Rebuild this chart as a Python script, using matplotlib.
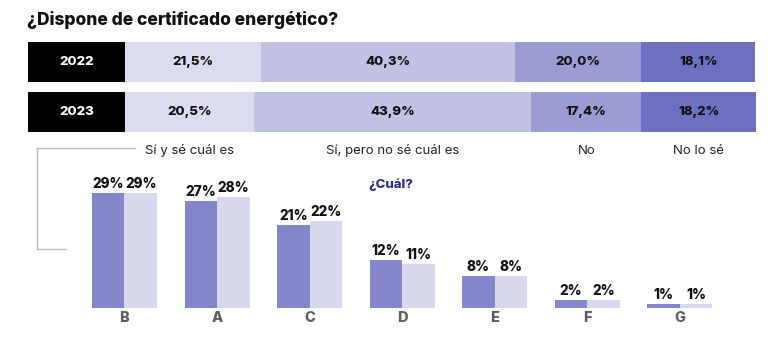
import matplotlib
matplotlib.use("Agg")
import matplotlib.pyplot as plt
from matplotlib.lines import Line2D

plt.rcParams['font.family'] = ['Inter', 'Lato', 'DejaVu Sans']

# ---- data ----
years = ["2022", "2023"]
answers = ["Sí y sé cuál es", "Sí, pero no sé cuál es", "No", "No lo sé"]
share_2022 = [21.5, 40.3, 20.0, 18.1]
share_2023 = [20.5, 43.9, 17.4, 18.2]
seg_colors = ["#dcdcf0", "#c0c1e3", "#9a9cd3", "#6e71c0"]

classes = ["B", "A", "C", "D", "E", "F", "G"]
cls_2022 = [29, 27, 21, 12, 8, 2, 1]
cls_2023 = [29, 28, 22, 11, 8, 2, 1]

W, H = 768, 361
fig = plt.figure(figsize=(W / 100, H / 100), dpi=100)

def fx(px):
    return px / W

def fy(py):
    return 1 - py / H

HEAVY = "heavy"

# title
fig.text(fx(27), fy(20), "¿Dispone de certificado energético?", fontsize=12.5,
         fontweight=HEAVY, color="#111111", ha="left", va="center")

# ---- stacked bars ----
label_w = 97 / 631 * 100
ax1 = fig.add_axes([fx(28), fy(137), fx(756) - fx(28), (137 - 37) / H])
ax1.set_xlim(-label_w, 100)
ax1.set_ylim(1.5, -0.5)
ax1.axis("off")
rows = [share_2022, share_2023]
for i, (yr, vals) in enumerate(zip(years, rows)):
    ax1.barh(i, label_w, left=-label_w, height=0.8, color="black")
    ax1.text(-label_w / 2, i, yr, color="white", fontsize=9.5, fontweight=HEAVY,
             ha="center", va="center")
    left = 0
    for v, c in zip(vals, seg_colors):
        ax1.barh(i, v, left=left, height=0.8, color=c)
        ax1.text(left + v / 2, i, f"{v:.1f}%".replace(".", ","), fontsize=9.5,
                 fontweight=HEAVY, color="#111111", ha="center", va="center")
        left += v

# category labels under 2023 segments
left = 0
for v, name in zip(share_2023, answers):
    ax1.annotate(name, xy=(left + v / 2, 1.5), xycoords="data",
                 xytext=(0, -10), textcoords="offset points",
                 ha="center", va="center", fontsize=9.5, color="#222222",
                 annotation_clip=False)
    left += v

# bracket lines
fig.add_artist(Line2D([fx(37), fx(135)], [fy(148), fy(148)], color="#bbbbbb", lw=1))
fig.add_artist(Line2D([fx(37), fx(37)], [fy(148), fy(249)], color="#bbbbbb", lw=1))
fig.add_artist(Line2D([fx(37), fx(66)], [fy(249), fy(249)], color="#bbbbbb", lw=1))

# ---- grouped bars ----
ax2 = fig.add_axes([fx(78.2), fy(307.7), fx(726.1) - fx(78.2), 118.2 / H])
ax2.set_xlim(-0.5, 6.5)
ax2.set_ylim(0, 30)
x = list(range(len(classes)))
bw = 0.351
b1 = ax2.bar([v - bw / 2 for v in x], cls_2022, width=bw, color="#8386c8")
b2 = ax2.bar([v + bw / 2 for v in x], cls_2023, width=bw, color="#d7d7ee")
for bars in (b1, b2):
    ax2.bar_label(bars, labels=[f"{int(v)}%" for v in bars.datavalues],
                  padding=1.5, fontsize=9.8, fontweight=HEAVY, color="#111111")
ax2.set_xticks(x)
ax2.set_xticklabels(classes, fontsize=10.5, fontweight=HEAVY, color="#5e5e5e")
ax2.tick_params(axis="x", length=0, pad=2.5)
ax2.set_yticks([])
for s in ax2.spines.values():
    s.set_visible(False)
ax2.patch.set_alpha(0)

fig.text(fx(368), fy(185), "¿Cuál?", fontsize=9.5, fontweight=HEAVY,
         color="#2e2e8c", ha="left", va="center")

fig.savefig("out.png", dpi=100)
